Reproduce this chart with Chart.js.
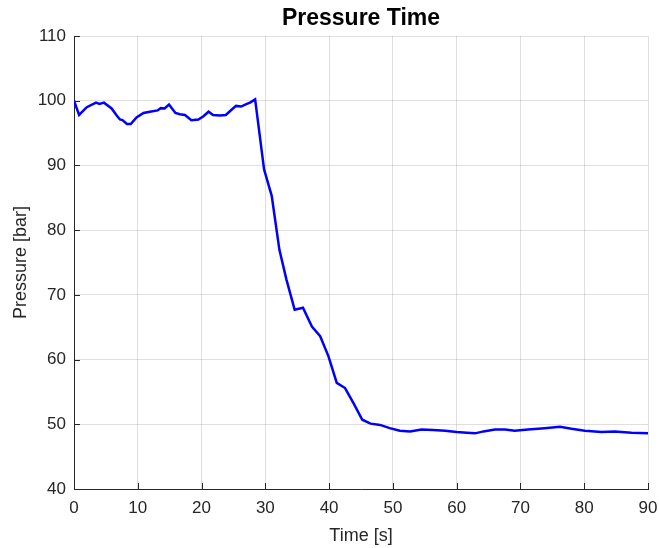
<!DOCTYPE html>
<html lang="en">
<head>
    <meta charset="UTF-8">
    <title>Pressure Time</title>
    <script src="https://cdn.jsdelivr.net/npm/chart.js"></script>
    <style>
        html, body { margin: 0; padding: 0; background: #fff; }
        #wrap { width: 659px; height: 548px; }
    </style>
</head>
<body>
    <div id="wrap"><canvas id="pressureChart" width="659" height="548"></canvas></div>

    <script>
        // time in seconds
        const timeSec = [0, 0.8, 2, 3.45, 4, 4.7, 5.9, 6.7, 7.2, 7.6, 8.3, 8.9, 9.8, 10.9, 11.9, 13.1, 13.6, 14.2,
            14.9, 15.9, 16.6, 17.4, 18.4, 19.5, 20.3, 21.1, 21.8, 22.9, 23.8, 24.7, 25.4, 26.2, 27.1, 27.6, 28.4,
            29.8, 31, 32.2, 33.3, 34.6, 35.9, 37.3, 38.6, 39.9, 41.2, 42.5, 43.8, 45.2, 46.5, 48, 49.5, 51.1,
            52.7, 54.5, 56.3, 58.2, 60, 61.6, 62.9, 64.2, 66, 67.6, 69.1, 71.2, 73.8, 76.2, 78, 80.1, 82.7,
            84.8, 87.4, 90];

        // pressure in bar
        const pressureBar = [100, 97.8, 99.0, 99.7, 99.5, 99.7, 98.8, 97.7, 97.1, 97.0, 96.4, 96.4, 97.4, 98.1, 98.3, 98.5, 98.85, 98.8,
            99.4, 98.1, 97.9, 97.8, 97.0, 97.1, 97.6, 98.3, 97.8, 97.7, 97.8, 98.6, 99.2, 99.1, 99.5, 99.7, 100.2,
            89.4, 85.3, 77.0, 72.4, 67.7, 68.0, 65.1, 63.6, 60.5, 56.4, 55.6, 53.3, 50.7, 50.1, 49.9, 49.4, 49.0,
            48.9, 49.2, 49.1, 49.0, 48.8, 48.7, 48.6, 48.9, 49.2, 49.2, 49.0, 49.2, 49.4, 49.6, 49.3, 49.0, 48.8,
            48.9, 48.7, 48.6];

        const xTicks = [0, 10, 20, 30, 40, 50, 60, 70, 80, 90];
        const yTicks = [40, 50, 60, 70, 80, 90, 100, 110];

        const axisColor = '#262626';
        const gridColor = 'rgba(38,38,38,0.15)';
        const fontFamily = '"Liberation Sans", Arial, Helvetica, sans-serif';

        // MATLAB-style inward tick marks on the left and bottom axes
        const inwardTicks = {
            id: 'inwardTicks',
            afterDatasetsDraw(chart) {
                const { ctx, chartArea, scales } = chart;
                ctx.save();
                ctx.strokeStyle = axisColor;
                ctx.lineWidth = 1;
                ctx.beginPath();
                xTicks.forEach(v => {
                    const px = Math.round(scales.x.getPixelForValue(v)) + 0.5;
                    ctx.moveTo(px, chartArea.bottom);
                    ctx.lineTo(px, chartArea.bottom - 6);
                });
                yTicks.forEach(v => {
                    const py = Math.round(scales.y.getPixelForValue(v)) + 0.5;
                    ctx.moveTo(chartArea.left, py);
                    ctx.lineTo(chartArea.left + 6, py);
                });
                ctx.stroke();
                ctx.restore();
            }
        };

        new Chart(document.getElementById('pressureChart').getContext('2d'), {
            type: 'line',
            data: {
                datasets: [{
                    label: 'Pressure',
                    data: timeSec.map((t, i) => ({ x: t, y: pressureBar[i] })),
                    borderColor: '#0000ff',
                    borderWidth: 2.5,
                    pointRadius: 0,
                    tension: 0,
                    fill: false
                }]
            },
            options: {
                responsive: false,
                animation: false,
                layout: { padding: { left: 0, right: 11, top: 0, bottom: 0 } },
                plugins: {
                    legend: { display: false },
                    tooltip: { enabled: false },
                    title: {
                        display: true,
                        fullSize: false,
                        text: 'Pressure Time',
                        color: '#000',
                        font: { family: fontFamily, size: 23, weight: 'bold', lineHeight: 1.2 },
                        padding: { top: 4.5, bottom: 3.9 }
                    }
                },
                scales: {
                    x: {
                        type: 'linear',
                        min: 0,
                        max: 90,
                        afterBuildTicks: scale => { scale.ticks = xTicks.map(v => ({ value: v })); },
                        afterFit: scale => {
                            scale.height = 59;
                            scale.paddingLeft = 0;
                            scale.paddingRight = 0;
                        },
                        ticks: {
                            color: axisColor,
                            padding: 9,
                            maxRotation: 0,
                            font: { family: fontFamily, size: 17 }
                        },
                        grid: { color: gridColor, drawTicks: false, tickLength: 0 },
                        border: { color: axisColor, width: 1 },
                        title: {
                            display: true,
                            text: 'Time [s]',
                            color: axisColor,
                            font: { family: fontFamily, size: 18 },
                            padding: { top: 0, bottom: 1 }
                        }
                    },
                    y: {
                        min: 40,
                        max: 110,
                        afterBuildTicks: scale => { scale.ticks = yTicks.map(v => ({ value: v })); },
                        afterFit: scale => {
                            scale.width = 74;
                            scale.paddingTop = 0;
                            scale.paddingBottom = 0;
                        },
                        ticks: {
                            color: axisColor,
                            padding: 8,
                            font: { family: fontFamily, size: 17 }
                        },
                        grid: { color: gridColor, drawTicks: false, tickLength: 0 },
                        border: { color: axisColor, width: 1 },
                        title: {
                            display: true,
                            text: 'Pressure [bar]',
                            color: axisColor,
                            font: { family: fontFamily, size: 18 },
                            padding: { top: 10, bottom: 0 }
                        }
                    }
                }
            },
            plugins: [inwardTicks]
        });
    </script>
</body>
</html>
